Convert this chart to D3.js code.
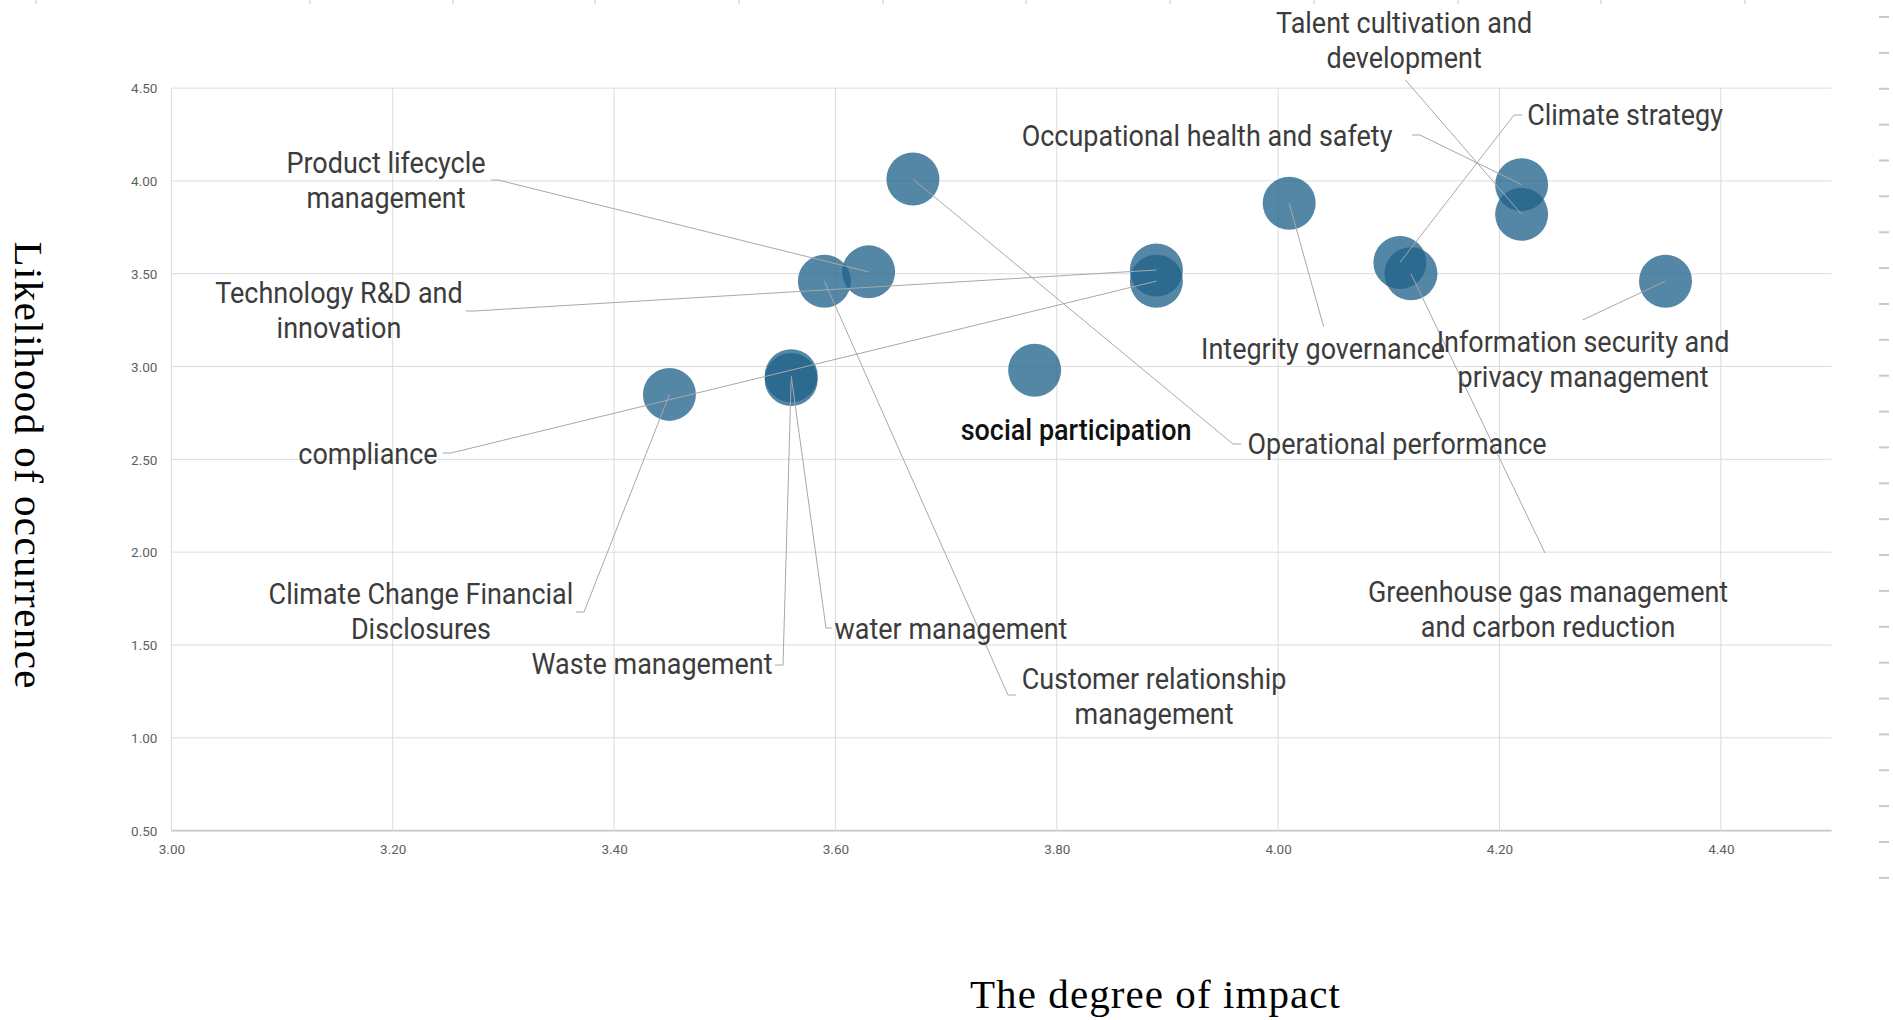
<!DOCTYPE html>
<html>
<head>
<meta charset="utf-8">
<script src="https://cdn.jsdelivr.net/npm/d3@7"></script>
<style>
  html, body { margin: 0; padding: 0; background: #ffffff; }
  svg { display: block; }
</style>
</head>
<body>
<svg id="chart" width="1893" height="1020"></svg>
<script>
// ---------------- DATA ----------------
const topics = [
  "Operational performance",
  "Product lifecycle management",
  "Customer relationship management",
  "Technology R&D and innovation",
  "compliance",
  "Integrity governance",
  "social participation",
  "Waste management",
  "water management",
  "Climate Change Financial Disclosures",
  "Occupational health and safety",
  "Talent cultivation and development",
  "Climate strategy",
  "Greenhouse gas management and carbon reduction",
  "Information security and privacy management"
];
// degree of impact (x)
const impact = [3.67, 3.63, 3.59, 3.89, 3.89, 4.01, 3.78, 3.56, 3.56, 3.45, 4.22, 4.22, 4.11, 4.12, 4.35];
// likelihood of occurrence (y)
const likelihood = [4.01, 3.51, 3.46, 3.52, 3.46, 3.88, 2.98, 2.93, 2.95, 2.85, 3.98, 3.82, 3.56, 3.50, 3.46];

const xTickValues = [3.00, 3.20, 3.40, 3.60, 3.80, 4.00, 4.20, 4.40];
const yTickValues = [0.50, 1.00, 1.50, 2.00, 2.50, 3.00, 3.50, 4.00, 4.50];
const xTitle = "The degree of impact";
const yTitle = "Likelihood of occurrence";

// label text, split in lines as shown
const labelLines = [
  ["Operational performance"],
  ["Product lifecycle", "management"],
  ["Customer relationship", "management"],
  ["Technology R&D and", "innovation"],
  ["compliance"],
  ["Integrity governance"],
  ["social participation"],
  ["Waste management"],
  ["water management"],
  ["Climate Change Financial", "Disclosures"],
  ["Occupational health and safety"],
  ["Talent cultivation and", "development"],
  ["Climate strategy"],
  ["Greenhouse gas management", "and carbon reduction"],
  ["Information security and", "privacy management"]
];

// ---------------- LAYOUT (label placement, in data units) ----------------
const labelAnchorX = [4.1074, 3.1939, 3.8879, 3.1514, 3.1776, 4.0406, 3.8174, 3.4343, 3.7044, 3.2255, 3.9358, 4.1138, 4.3135, 4.2439, 4.2755];
const labelAnchorY = [2.5286, 4.0426, 1.2651, 3.3421, 2.4747, 3.0404, 2.6040, 1.3432, 1.5318, 1.7204, 4.1907, 4.7970, 4.3028, 1.7333, 3.0797];
// leader start points in pixel layout, null = no leader
const leaderPx = [
  [[1241, 444], [1233, 444]],
  [[491, 180], [498, 180]],
  [[1016, 695], [1008, 695]],
  [[466, 311], [474, 311]],
  [[443, 453], [451, 453]],
  [[1323.6, 326.7]],
  null,
  [[775, 665], [783, 665]],
  [[832, 628], [826, 628]],
  [[576, 612], [584, 612]],
  [[1412, 135], [1420, 135]],
  [[1405.5, 80]],
  [[1522, 115], [1514, 115]],
  [[1545, 553]],
  [[1582.5, 320]]
];

// ---------------- DRAW ----------------
const svg = d3.select("#chart");
const W = 1893, H = 1020;
const plot = { left: 171.4, right: 1831.5, top: 88.1, bottom: 830.6 };

svg.append("rect").attr("width", W).attr("height", H).attr("fill", "#ffffff");

const x = d3.scaleLinear().domain([3.0, 4.5]).range([plot.left, plot.right]);
const y = d3.scaleLinear().domain([0.5, 4.5]).range([plot.bottom, plot.top]);

// decorative screenshot artefacts: top ruler marks & right dashes
const topMarks = [36, 310, 453, 595, 739, 883, 1026, 1170, 1314, 1458, 1601, 1745];
svg.append("g").selectAll("line").data(topMarks).join("line")
  .attr("x1", d => d).attr("x2", d => d).attr("y1", 0).attr("y2", 4)
  .attr("stroke", "#c4c4c4").attr("stroke-width", 1);
svg.append("g").selectAll("line").data(d3.range(25)).join("line")
  .attr("x1", 1879).attr("x2", 1889)
  .attr("y1", i => 17 + i * 35.87).attr("y2", i => 17 + i * 35.87)
  .attr("stroke", "#c9c9c9").attr("stroke-width", 2);

// gridlines
const grid = svg.append("g");
grid.selectAll("line.h").data(yTickValues).join("line")
  .attr("class", "h")
  .attr("x1", plot.left).attr("x2", plot.right)
  .attr("y1", d => y(d)).attr("y2", d => y(d))
  .attr("stroke", d => d === 0.5 ? "#c6c6c6" : "#dcdcdc")
  .attr("stroke-width", d => d === 0.5 ? 1.6 : 1);
grid.selectAll("line.v").data(xTickValues).join("line")
  .attr("class", "v")
  .attr("x1", d => x(d)).attr("x2", d => x(d))
  .attr("y1", plot.top).attr("y2", plot.bottom)
  .attr("stroke", "#dcdcdc").attr("stroke-width", 1);

// axes (tick labels only)
const xAxis = d3.axisBottom(x).tickValues(xTickValues).tickFormat(d3.format(".2f")).tickSize(0).tickPadding(0);
const yAxis = d3.axisLeft(y).tickValues(yTickValues).tickFormat(d3.format(".2f")).tickSize(0).tickPadding(0);
const gx = svg.append("g").attr("transform", `translate(0,${plot.bottom + 14})`).call(xAxis);
const gy = svg.append("g").attr("transform", `translate(${plot.left - 14},0)`).call(yAxis);
[gx, gy].forEach(g => {
  g.select(".domain").remove();
  g.selectAll("text")
    .attr("font-family", "Roboto, 'Liberation Sans', sans-serif")
    .attr("font-size", 13.5)
    .attr("fill", "#5f5f5f");
});
gy.selectAll("text").attr("dy", "0.35em");

// bubbles
const pts = topics.map((t, i) => ({ t, xv: impact[i], yv: likelihood[i], i }));
svg.append("g").selectAll("circle").data(pts).join("circle")
  .attr("cx", d => x(d.xv)).attr("cy", d => y(d.yv)).attr("r", 26.5)
  .attr("fill", "rgb(32,98,138)").attr("fill-opacity", 0.77);

// leader lines
const lineGen = d3.line();
svg.append("g").selectAll("path").data(pts.filter(d => leaderPx[d.i])).join("path")
  .attr("d", d => {
    const p = leaderPx[d.i].map(q => [q[0], q[1]]);
    p.push([x(d.xv), y(d.yv)]);
    return lineGen(p);
  })
  .attr("fill", "none").attr("stroke", "#a8a8a8").attr("stroke-width", 1);

// labels
const lab = svg.append("g");
pts.forEach(d => {
  const isSocial = d.t === "social participation";
  const t = lab.append("text")
    .attr("transform", `translate(${x(labelAnchorX[d.i])},${y(labelAnchorY[d.i])}) scale(0.93,1)`)
    .attr("text-anchor", "middle")
    .attr("font-family", "Roboto, 'Liberation Sans', sans-serif")
    .attr("font-size", 29)
    .attr("font-weight", isSocial ? 500 : 400)
    .attr("fill", isSocial ? "#111111" : "#3c3c3c");
  labelLines[d.i].forEach((ln, k) => {
    t.append("tspan").attr("x", 0).attr("y", k * 35.3).text(ln);
  });
});

// axis titles
svg.append("text")
  .attr("x", 1155).attr("y", 1008)
  .attr("text-anchor", "middle")
  .attr("font-family", "'Liberation Serif', 'DejaVu Serif', serif")
  .attr("font-size", 41)
  .attr("textLength", 370).attr("lengthAdjust", "spacing")
  .attr("fill", "#000")
  .text(xTitle);
svg.append("text")
  .attr("transform", "translate(15,465) rotate(90)")
  .attr("text-anchor", "middle")
  .attr("font-family", "'Liberation Serif', 'DejaVu Serif', serif")
  .attr("font-size", 41)
  .attr("textLength", 447).attr("lengthAdjust", "spacing")
  .attr("fill", "#000")
  .text(yTitle);
</script>
</body>
</html>
